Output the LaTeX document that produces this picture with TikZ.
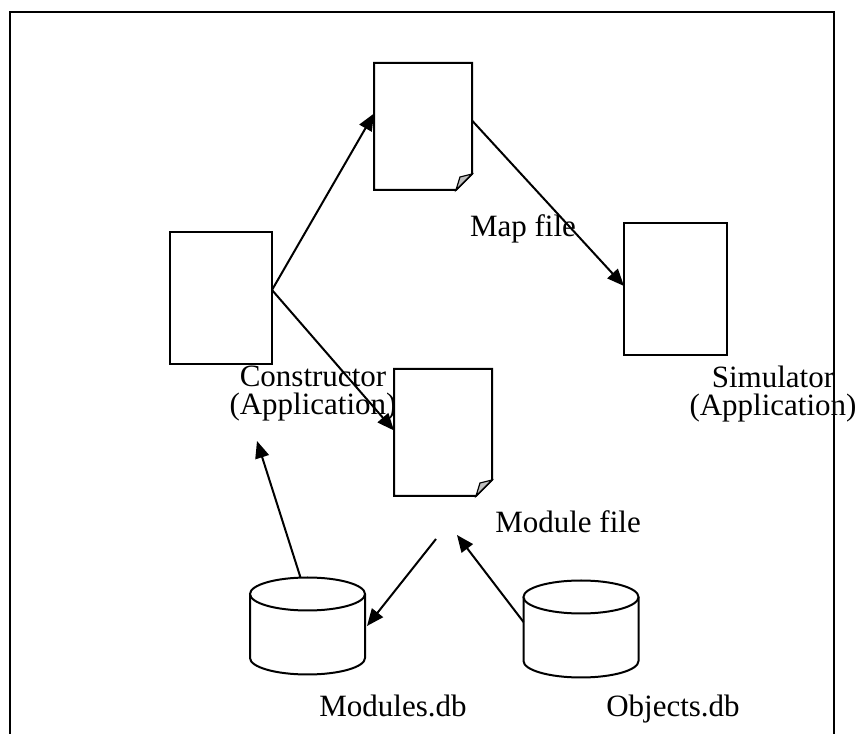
\documentclass[tikz,border=0pt]{standalone}
\usepackage{fontspec}
\setmainfont{Liberation Serif}
\usetikzlibrary{arrows.meta}
\tikzset{
	appbox/.style={draw, fill=white, minimum width=102pt, minimum height=132pt, inner sep=0pt, outer sep=0pt},
	docbox/.style={minimum width=98pt, minimum height=127pt, inner sep=0pt, outer sep=0pt},
	dbbox/.style={minimum width=115pt, minimum height=97pt, inner sep=0pt, outer sep=0pt},
	lbl/.style={font=\fontsize{31}{28}\selectfont, align=center, inner sep=0pt}
}
% page with a folded corner round a docbox node
\newcommand\docpage[1]{%
	\draw[fill=white] (#1.north west) -- (#1.north east) -- ([yshift=16pt]#1.south east)
		-- ([xshift=-16pt]#1.south east) -- (#1.south west) -- cycle;
	\draw[fill=black!25, line width=1.2pt] ([xshift=-16pt]#1.south east) -- ([xshift=-12pt,yshift=13pt]#1.south east)
		-- ([yshift=16pt]#1.south east) -- cycle;
}
% drum round a dbbox node
\newcommand\dbdrum[1]{%
	\draw[fill=white] ([yshift=-16.5pt]#1.north west) -- ([yshift=16.5pt]#1.south west)
		arc[start angle=180, end angle=360, x radius=57.5pt, y radius=16.5pt]
		-- ([yshift=-16.5pt]#1.north east);
	\draw[fill=white] ([yshift=-16.5pt]#1.north) ellipse [x radius=57.5pt, y radius=16.5pt];
}
\begin{document}
\begin{tikzpicture}[x=1pt, y=1pt, >={Triangle[length=17pt,width=14pt]}, line width=2pt]
	\useasboundingbox (0,0) rectangle (860,734);
	\draw (10,-5) -- (10,722) -- (834,722) -- (834,-5);
	% labels
	\node[lbl] (conlbl) at (313,340) {Constructor\\(Application)};
	\node[lbl] (simlbl) at (773,340) {Simulator\\(Application)};
	\node[lbl] (maplbl) at (523,505) {Map file};
	\node[lbl] (modlbl) at (568,212) {Module file};
	\node[lbl, anchor=base] (mdblbl) at (393,17) {Modules.db};
	\node[lbl, anchor=base] (odblbl) at (673,17) {Objects.db};
	% shapes
	\node[appbox] (con) at (221,436) {};
	\node[appbox, minimum width=103pt] (sim) at (675.5,445) {};
	\node[docbox] (map) at (423,607.5) {};
	\node[docbox] (mod) at (443,301.5) {};
	\docpage{map}
	\docpage{mod}
	\node[dbbox] (mdb) at (307.5,108) {};
	\node[dbbox] (odb) at (581,105) {};
	\dbdrum{mdb}
	\dbdrum{odb}
	\coordinate (contip) at (257,293);
	\coordinate (modout) at (436,195);
	\coordinate (modin) at (457,199);
	% arrows
	\draw[->] ([yshift=8pt]con.east) -- ([yshift=13pt]map.west);
	\draw[->] ([yshift=8pt]con.east) -- ([yshift=2pt]mod.west);
	\draw[->] ([yshift=6pt]map.east) -- ([yshift=3pt]sim.west);
	\draw[->] ([xshift=-7pt]mdb.north) -- (contip);
	\draw[->] (modout) -- ([xshift=2pt]mdb.east);
	\draw[->] ([yshift=7pt]odb.west) -- (modin);
\end{tikzpicture}
\end{document}
